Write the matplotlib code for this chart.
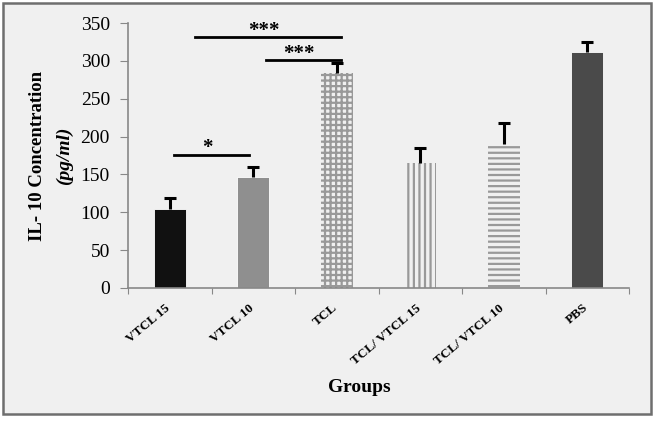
import matplotlib
matplotlib.use("Agg")
import matplotlib.pyplot as plt
from matplotlib.patches import Rectangle

categories = ["VTCL 15", "VTCL 10", "TCL", "TCL/ VTCL 15", "TCL/ VTCL 10", "PBS"]
values = [104, 147, 284, 165, 190, 312]
errors = [15, 13, 13, 20, 28, 13]
face_colors = ["#111111", "#8f8f8f", "#f0f0f0", "#f0f0f0", "#f0f0f0", "#4a4a4a"]
hatches = [None, None, "+++", "|||", "---", None]
yticks = [0, 50, 100, 150, 200, 250, 300, 350]

# significance brackets: (x_start, x_end, y, label)
sig = [(0.05, 0.95, 176, "*"), (0.3, 2.05, 331, "***"), (1.15, 2.05, 301, "***")]

plt.rcParams["font.family"] = ["Liberation Serif", "DejaVu Serif"]
plt.rcParams["hatch.linewidth"] = 1.6

W, H = 661, 421
fig = plt.figure(figsize=(W / 100, H / 100), dpi=100, facecolor="white")
frame = Rectangle((3 / W, 7 / H), 648 / W, 411 / H, transform=fig.transFigure,
                  facecolor="#f0f0f0", edgecolor="#6e6e6e", linewidth=1.8, zorder=-5)
fig.add_artist(frame)

ax = fig.add_axes([128 / W, 1 - 288 / H, 501 / W, 265 / H])
ax.set_facecolor("none")
x = list(range(len(categories)))
for i in x:
    if hatches[i]:
        ax.bar(i, values[i], width=0.385, color=face_colors[i], edgecolor="#999999",
               linewidth=0, hatch=hatches[i], zorder=2)
    else:
        ax.bar(i, values[i], width=0.385, color=face_colors[i], edgecolor="white",
               linewidth=0.6, zorder=2)
eb = ax.errorbar(x, values, yerr=[[0] * len(values), errors], fmt="none", ecolor="black",
                 elinewidth=2.2, capsize=4, capthick=2.2, zorder=3)
eb[1][0].set_visible(False)  # hide lower caps (only positive error shown)

ax.set_xlim(-0.5, len(categories) - 0.5)
ax.set_ylim(0, 350)
ax.set_yticks(yticks)
ax.set_yticklabels([str(v) for v in yticks], fontsize=14)
ax.set_xticks([i - 0.5 for i in range(len(categories) + 1)])
ax.set_xticklabels([])
ax.set_xticks([i - 0.06 for i in x], minor=True)
ax.set_xticklabels(categories, minor=True, rotation=40, ha="right", va="top",
                   rotation_mode="anchor", fontsize=9.5, fontweight="bold")
ax.tick_params(axis="x", which="minor", length=0, pad=10)
ax.tick_params(axis="x", which="major", length=4, color="#888888", direction="out")
ax.tick_params(axis="y", length=6, color="#888888", direction="out", pad=7)
for s in ["top", "right"]:
    ax.spines[s].set_visible(False)
for s in ["left", "bottom"]:
    ax.spines[s].set_color("#888888")
    ax.spines[s].set_linewidth(1.2)

for x0, x1, y, lab in sig:
    ax.plot([x0, x1], [y, y], color="black", linewidth=2, zorder=4, clip_on=False)
    ax.text((x0 + x1) / 2 - 0.05, y + 2, lab, ha="center", va="baseline", fontsize=15,
            fontweight="bold", zorder=4)

fig.text(38 / W, 1 - 156 / H, "IL- 10 Concentration", rotation=90, ha="center", va="center",
         fontsize=13.5, fontweight="bold")
fig.text(64 / W, 1 - 156 / H, "(pg/ml)", rotation=90, ha="center", va="center",
         fontsize=14, fontweight="bold", style="italic")
fig.text(359 / W, 1 - 387 / H, "Groups", ha="center", va="center",
         fontsize=14, fontweight="bold")

fig.savefig("out.png", dpi=100, facecolor="white")
